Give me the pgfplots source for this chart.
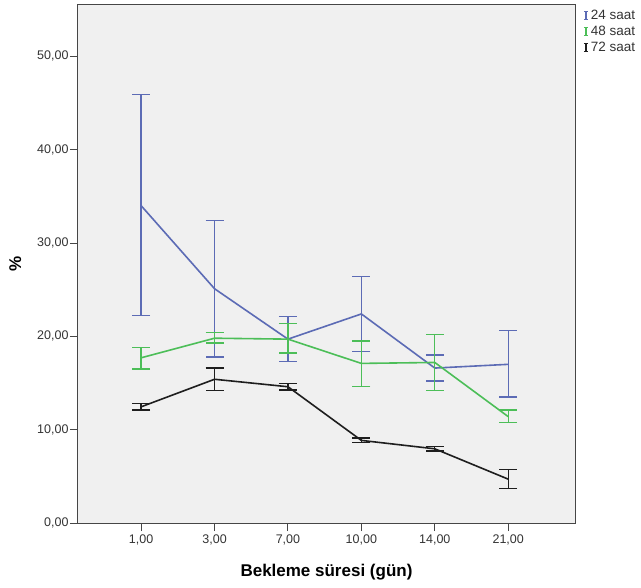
\documentclass[border=0pt]{standalone}
\usepackage{pgfplots}
\pgfplotsset{compat=1.18}
\usepackage{pgfplotstable}
\usepackage{fontspec}
\setmainfont{Liberation Sans}

\definecolor{s24}{RGB}{92,107,181}
\definecolor{s48}{RGB}{76,190,88}
\definecolor{s72}{RGB}{30,30,30}
\definecolor{bgpanel}{RGB}{240,240,240}
\definecolor{framegray}{RGB}{70,70,70}

% x = category index (1,3,7,10,14,21 gün), y = mean, ep/em = error bar up/down
\pgfplotstableread{
x y ep em
0 34.0 11.9 11.8
1 25.1 7.3 7.3
2 19.7 2.4 2.4
3 22.4 4.0 4.0
4 16.6 1.4 1.4
5 17.0 3.6 3.5
}\saatA
\pgfplotstableread{
x y ep em
0 17.7 1.1 1.2
1 19.8 0.6 0.5
2 19.7 1.7 1.5
3 17.1 2.4 2.5
4 17.2 3.0 3.0
5 11.4 0.7 0.6
}\saatB
\pgfplotstableread{
x y ep em
0 12.45 0.35 0.35
1 15.4 1.2 1.2
2 14.6 0.35 0.35
3 8.85 0.25 0.25
4 7.95 0.25 0.25
5 4.7 1.0 1.0
}\saatC

\pgfplotsset{
  ebar/.style={#1, line width=1.6pt, mark=none,
    error bars/y dir=both, error bars/y explicit,
    error bars/error bar style={#1, line width=1.3pt},
    error bars/error mark options={#1, line width=1.3pt, mark size=9pt, rotate=90}},
}

\begin{document}
\begin{tikzpicture}
\begin{axis}[
  width=497pt, height=518pt, scale only axis,
  xmin=-0.86, xmax=5.91, ymin=0, ymax=55.5,
  clip=false,
  axis background/.style={fill=bgpanel},
  axis line style={framegray, line width=1pt},
  xtick={0,...,5},
  xticklabels={{1,00},{3,00},{7,00},{10,00},{14,00},{21,00}},
  ytick={0,10,...,50},
  yticklabel style={xshift=2pt, /pgf/number format/.cd, use comma, fixed, fixed zerofill, precision=2, assume math mode=true},
  tick label style={font=\fontsize{12.5}{14}\selectfont, text=black!80},
  tick align=outside, xtick pos=bottom, ytick pos=left,
  major tick length=8pt,
  tick style={framegray, line width=1pt},
  xlabel={\textbf{Bekleme süresi (gün)}},
  ylabel={\textbf{\%}},
  ylabel style={yshift=9pt},
  xlabel style={yshift=-12pt},
  label style={font=\fontsize{17}{20}\selectfont},
  legend style={at={(1,0.995)}, anchor=north west, xshift=8pt, draw=none, fill=none,
    font=\fontsize{13.5}{16}\selectfont, text=black!80, inner sep=0pt,
    row sep=1pt},
  legend cell align=left,
  legend image code/.code={
    \draw[#1, line width=1.2pt] (2.2pt,-4pt) -- (2.2pt,4pt)
      (0pt,-4pt) -- (4.4pt,-4pt) (0pt,4pt) -- (4.4pt,4pt);
  },
]
\addplot[ebar=s24] table[x=x, y=y, y error plus=ep, y error minus=em] {\saatA};
\addlegendentry{24 saat}
\addplot[ebar=s48] table[x=x, y=y, y error plus=ep, y error minus=em] {\saatB};
\addlegendentry{48 saat}
\addplot[ebar=s72] table[x=x, y=y, y error plus=ep, y error minus=em] {\saatC};
\addlegendentry{72 saat}
\path (rel axis cs:0,1) ++(0,5pt) coordinate (toppad);
\path (rel axis cs:1,1) ++(66pt,5pt) coordinate (rightpad);
\path (rel axis cs:0,0) ++(-78pt,-64pt) coordinate (leftbottompad);
\end{axis}
\end{tikzpicture}
\end{document}
